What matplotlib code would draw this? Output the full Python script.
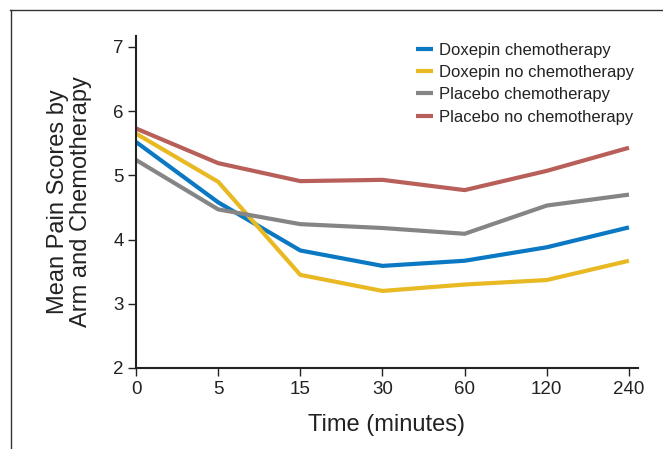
import numpy as np
import matplotlib
matplotlib.use("Agg")
import matplotlib.pyplot as plt
from matplotlib.lines import Line2D

# Time points (categorical, evenly spaced on the axis)
times = ["0", "5", "15", "30", "60", "120", "240"]

# Mean pain scores
doxepin_chemo = [5.52, 4.58, 3.83, 3.59, 3.67, 3.88, 4.19]
doxepin_no_chemo = [5.65, 4.90, 3.45, 3.20, 3.30, 3.37, 3.67]
placebo_chemo = [5.24, 4.47, 4.24, 4.18, 4.09, 4.53, 4.70]
placebo_no_chemo = [5.73, 5.19, 4.91, 4.93, 4.77, 5.07, 5.43]

series = [
    ("Doxepin chemotherapy", doxepin_chemo, "#0a78c2"),
    ("Doxepin no chemotherapy", doxepin_no_chemo, "#e8b923"),
    ("Placebo chemotherapy", placebo_chemo, "#858585"),
    ("Placebo no chemotherapy", placebo_no_chemo, "#b95f5a"),
]

plt.rcParams["font.family"] = ["Liberation Sans", "DejaVu Sans"]
txt = "#222222"

fig = plt.figure(figsize=(6.63, 4.49), dpi=100)
ax = fig.add_axes([136 / 663, 1 - 368 / 449, (638 - 136) / 663, (368 - 36) / 449])

x = np.arange(len(times))
for name, vals, col in series:
    ax.plot(x, vals, color=col, lw=3, label=name, solid_capstyle="butt")

ax.set_xlim(0, 6.11)
ax.set_ylim(2, 7.17)
ax.set_xticks(x)
ax.set_xticklabels(times, fontsize=13.5, color=txt)
ax.set_yticks(range(2, 8))
ax.set_yticklabels([str(v) for v in range(2, 8)], fontsize=13.5, color=txt)
ax.tick_params(direction="out", length=6, width=1, color="#222222", pad=3)

for s in ["top", "right"]:
    ax.spines[s].set_visible(False)
for s in ["left", "bottom"]:
    ax.spines[s].set_linewidth(1.5)
    ax.spines[s].set_color("#222222")

ax.set_xlabel("Time (minutes)", fontsize=17, labelpad=12, color=txt)
ax.set_ylabel("Mean Pain Scores by\nArm and Chemotherapy", fontsize=17,
              labelpad=15, linespacing=1.05, color=txt)

leg = ax.legend(loc="upper left", bbox_to_anchor=(0.558, 0.98), frameon=False,
                borderaxespad=0, borderpad=0, handlelength=1.0, handletextpad=0.4,
                labelspacing=0.44, prop={"size": 12})
for t in leg.get_texts():
    t.set_color(txt)

# outer frame (top and left edges only)
fig.add_artist(Line2D([10 / 663, 1], [1 - 10 / 449, 1 - 10 / 449], color="#333333", lw=1))
fig.add_artist(Line2D([11 / 663, 11 / 663], [0, 1 - 10 / 449], color="#333333", lw=1))

fig.savefig("out.png", dpi=100)
